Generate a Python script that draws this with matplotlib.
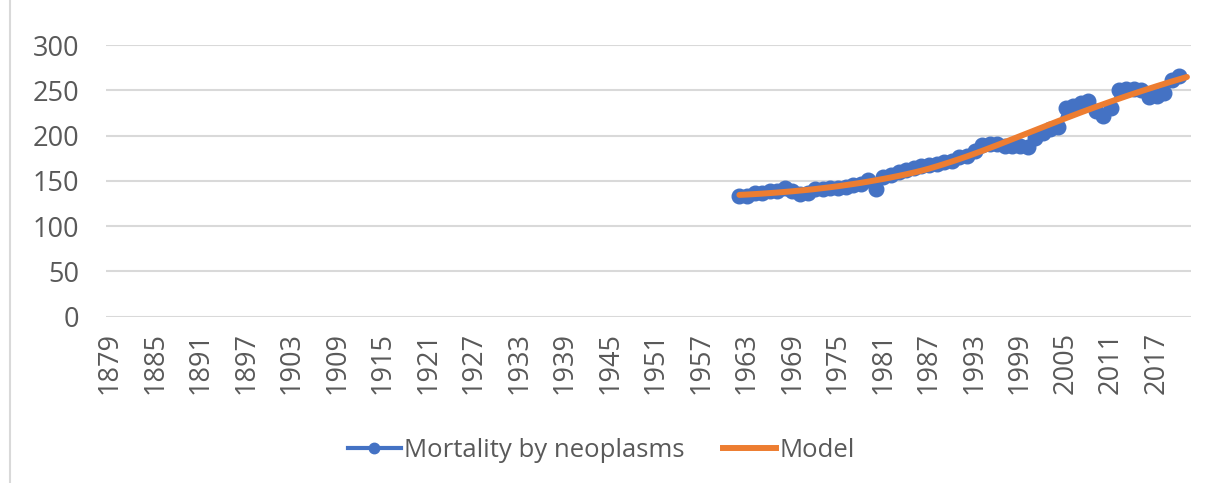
import numpy as np
import matplotlib
matplotlib.use("Agg")
import matplotlib.pyplot as plt
from matplotlib.lines import Line2D

# category axis: one slot per year
categories = list(range(1879, 2022))
tick_labels = [str(y) for y in categories[::6]]

# observed series (1962-2020)
obs_years = list(range(1962, 2021))
mortality = [133, 133, 137, 137, 139, 139, 142, 139, 136, 137,
             141, 141, 142, 142, 143, 145, 147, 151, 141, 154,
             157, 160, 162, 164, 166, 168, 169, 171, 172, 176,
             178, 183, 190, 191, 191, 189, 188, 189, 187, 197,
             203, 207, 210, 230, 233, 236, 238, 227, 222, 230,
             250, 251, 251, 250, 243, 244, 247, 261, 266]

# fitted model (1962-2021)
model_years = list(range(1962, 2022))
model = [134.5, 134.9, 135.4, 135.9, 136.5, 137.1, 137.8, 138.5, 139.3, 140.1,
         141.0, 142.0, 143.0, 144.1, 145.3, 146.5, 147.8, 149.2, 150.7, 152.2,
         153.8, 155.5, 157.3, 159.2, 161.2, 163.5, 166.0, 168.6, 171.3, 174.1,
         177.0, 180.0, 183.1, 186.3, 189.5, 192.8, 196.1, 199.4, 202.7, 206.0,
         209.3, 212.6, 215.9, 219.1, 222.3, 225.5, 228.6, 231.7, 234.7, 237.7,
         240.6, 243.5, 246.3, 249.1, 251.8, 254.5, 257.1, 259.7, 262.2, 264.7]

blue = "#4472C4"
orange = "#ED7D31"
grey_txt = "#595959"
grid_c = "#D9D9D9"

plt.rcParams['font.family'] = ['Open Sans', 'DejaVu Sans']
tick_fs = 19.5
leg_fs = 18.5

fig = plt.figure(figsize=(12.08, 4.83), dpi=100)
ax = fig.add_axes([0.0877, 0.3443, 0.898, 0.5625])

x_obs = [categories.index(y) for y in obs_years]
x_mod = [categories.index(y) for y in model_years]

ax.plot(x_obs, mortality, color=blue, lw=2.2, marker='o', ms=10.5,
        solid_capstyle='round', zorder=3)
ax.plot(x_mod, model, color=orange, lw=4.3, solid_capstyle='round', zorder=4)

ax.set_xlim(-0.5, len(categories) - 0.5)
ax.set_ylim(0, 300)
ax.set_yticks(np.arange(0, 301, 50))
ax.set_xticks(range(0, len(categories), 6))
ax.set_xticklabels(tick_labels, rotation=90)
ax.grid(axis='y', color=grid_c, lw=1.5)
ax.set_axisbelow(True)
for s in ax.spines.values():
    s.set_visible(False)
ax.tick_params(axis='both', length=0, labelsize=tick_fs, colors=grey_txt)
ax.tick_params(axis='x', pad=11)
ax.tick_params(axis='y', pad=19)

# chart border on the left
fig.add_artist(Line2D([10/1208, 10/1208], [0, 1], color=grid_c, lw=1.5))

handles = [Line2D([], [], color=blue, lw=3, marker='o', ms=7.5),
           Line2D([], [], color=orange, lw=4.3)]
leg = fig.legend(handles, ["Mortality by neoplasms", "Model"], loc='center',
                 bbox_to_anchor=(0.498, 0.068), ncol=2, frameon=False,
                 fontsize=leg_fs, handlelength=2.05, handletextpad=0.15,
                 columnspacing=1.5)
for t in leg.get_texts():
    t.set_color(grey_txt)

fig.savefig("out.png", dpi=100)
